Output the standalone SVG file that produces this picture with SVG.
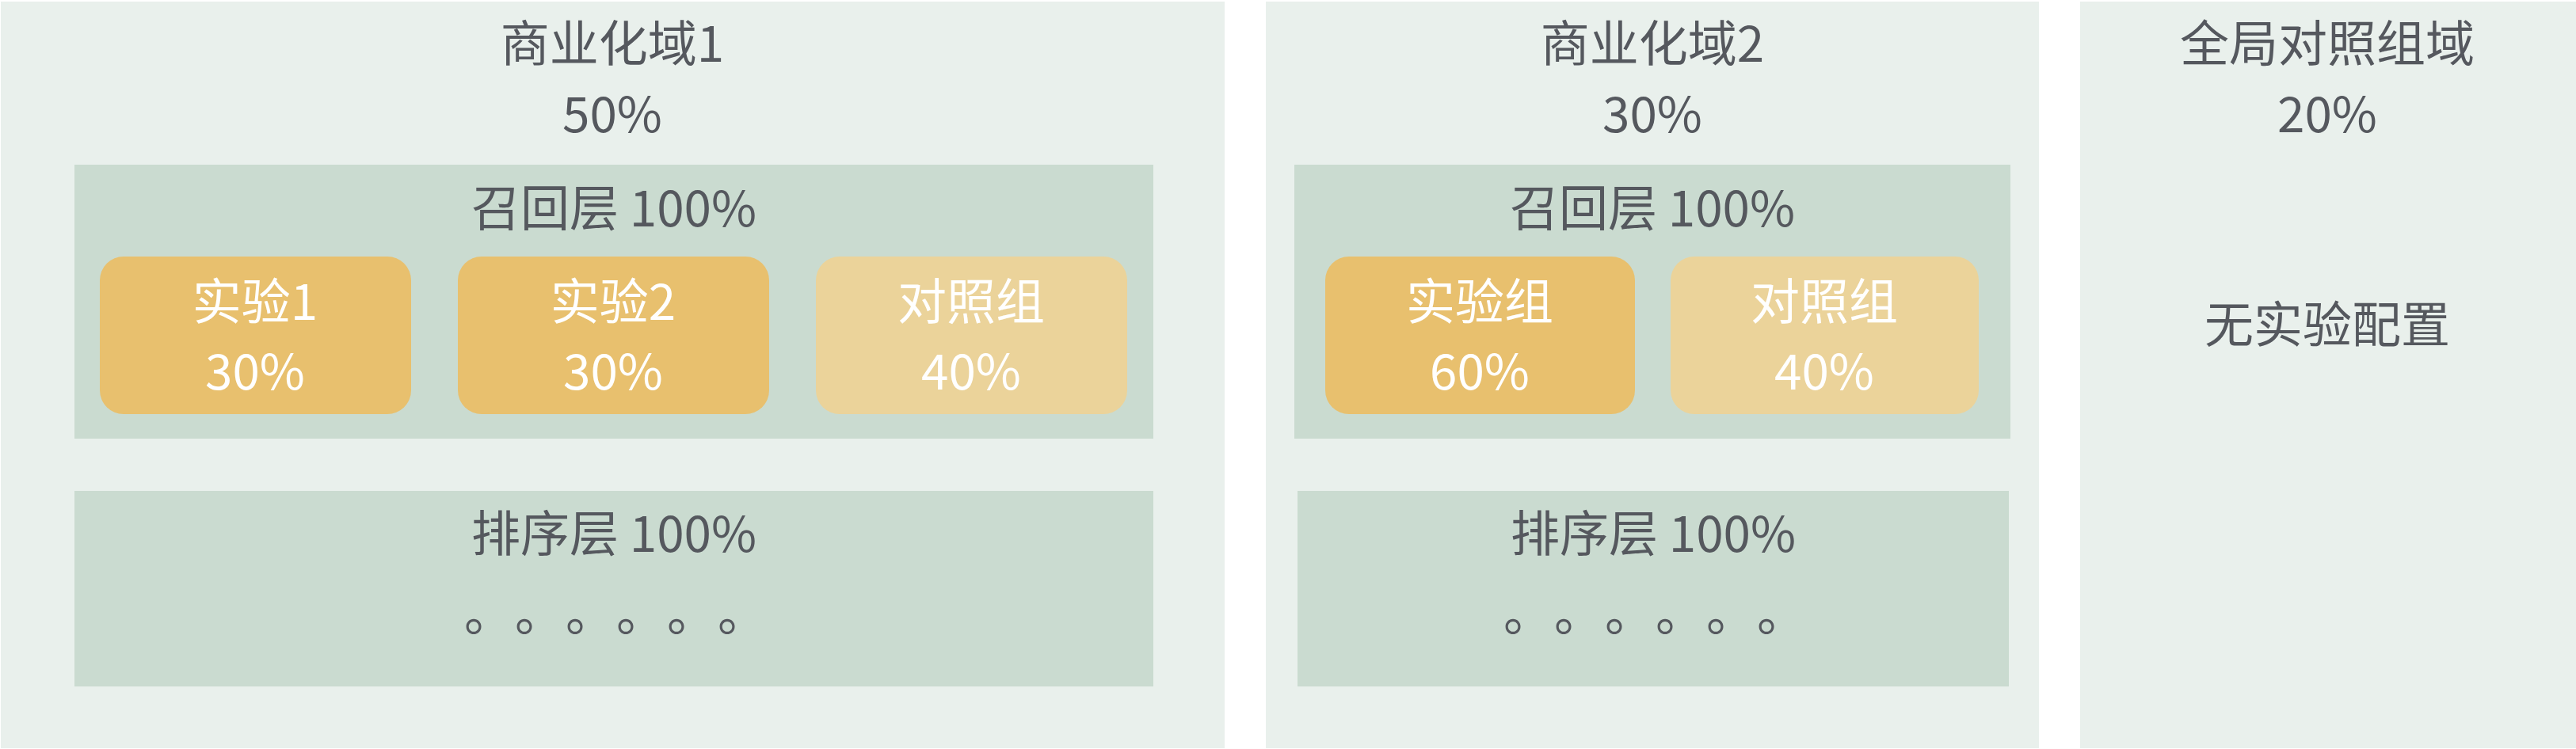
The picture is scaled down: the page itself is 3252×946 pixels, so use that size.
<svg xmlns="http://www.w3.org/2000/svg" width="3252" height="946" viewBox="0 0 3252 946">
<style>
.panel{fill:#E9F0EC}
.layer{fill:#CADBD0}
.exp{fill:#E8C06E}
.ctl{fill:#EBD39A}
text{font-family:"Noto Sans CJK SC","Noto Sans",sans-serif;font-size:62px;text-anchor:middle}
.dk{fill:#55585E}
.wt{fill:#FFFFFF}
.dot{text-anchor:start}
</style>
<rect width="3252" height="946" fill="#FFFFFF"/>
<g id="domain1">
<rect class="panel" x="1" y="2" width="1545" height="943"/>
<text class="dk" x="773" y="78">商业化域1</text>
<text class="dk" x="773" y="167">50%</text>
</g>
<g id="recall1">
<rect class="layer" x="94" y="208" width="1362" height="346"/>
<text class="dk" x="775" y="286">召回层 100%</text>
</g>
<g id="exp1">
<rect class="exp" x="126" y="324" width="393" height="199" rx="30"/>
<text class="wt" x="322" y="404">实验1</text>
<text class="wt" x="322" y="492">30%</text>
</g>
<g id="exp2">
<rect class="exp" x="578" y="324" width="393" height="199" rx="30"/>
<text class="wt" x="774" y="404">实验2</text>
<text class="wt" x="774" y="492">30%</text>
</g>
<g id="ctl1">
<rect class="ctl" x="1030" y="324" width="393" height="199" rx="30"/>
<text class="wt" x="1226" y="404">对照组</text>
<text class="wt" x="1226" y="492">40%</text>
</g>
<g id="rank1">
<rect class="layer" x="94" y="620" width="1362" height="247"/>
<text class="dk" x="775" y="697">排序层 100%</text>
<text class="dk dot" x="586" y="797">。</text>
<text class="dk dot" x="650" y="797">。</text>
<text class="dk dot" x="714" y="797">。</text>
<text class="dk dot" x="778" y="797">。</text>
<text class="dk dot" x="842" y="797">。</text>
<text class="dk dot" x="906" y="797">。</text>
</g>
<g id="domain2">
<rect class="panel" x="1598" y="2" width="976" height="943"/>
<text class="dk" x="2086" y="78">商业化域2</text>
<text class="dk" x="2086" y="167">30%</text>
</g>
<g id="recall2">
<rect class="layer" x="1634" y="208" width="904" height="346"/>
<text class="dk" x="2086" y="286">召回层 100%</text>
</g>
<g id="exp3">
<rect class="exp" x="1673" y="324" width="391" height="199" rx="30"/>
<text class="wt" x="1868" y="404">实验组</text>
<text class="wt" x="1868" y="492">60%</text>
</g>
<g id="ctl2">
<rect class="ctl" x="2109" y="324" width="389" height="199" rx="30"/>
<text class="wt" x="2303" y="404">对照组</text>
<text class="wt" x="2303" y="492">40%</text>
</g>
<g id="rank2">
<rect class="layer" x="1638" y="620" width="898" height="247"/>
<text class="dk" x="2087" y="697">排序层 100%</text>
<text class="dk dot" x="1898" y="797">。</text>
<text class="dk dot" x="1962" y="797">。</text>
<text class="dk dot" x="2026" y="797">。</text>
<text class="dk dot" x="2090" y="797">。</text>
<text class="dk dot" x="2154" y="797">。</text>
<text class="dk dot" x="2218" y="797">。</text>
</g>
<g id="domain3">
<rect class="panel" x="2626" y="2" width="626" height="943"/>
<text class="dk" x="2938" y="78">全局对照组域</text>
<text class="dk" x="2938" y="167">20%</text>
<text class="dk" x="2938" y="433">无实验配置</text>
</g>
<g id="connectors"></g>
</svg>
